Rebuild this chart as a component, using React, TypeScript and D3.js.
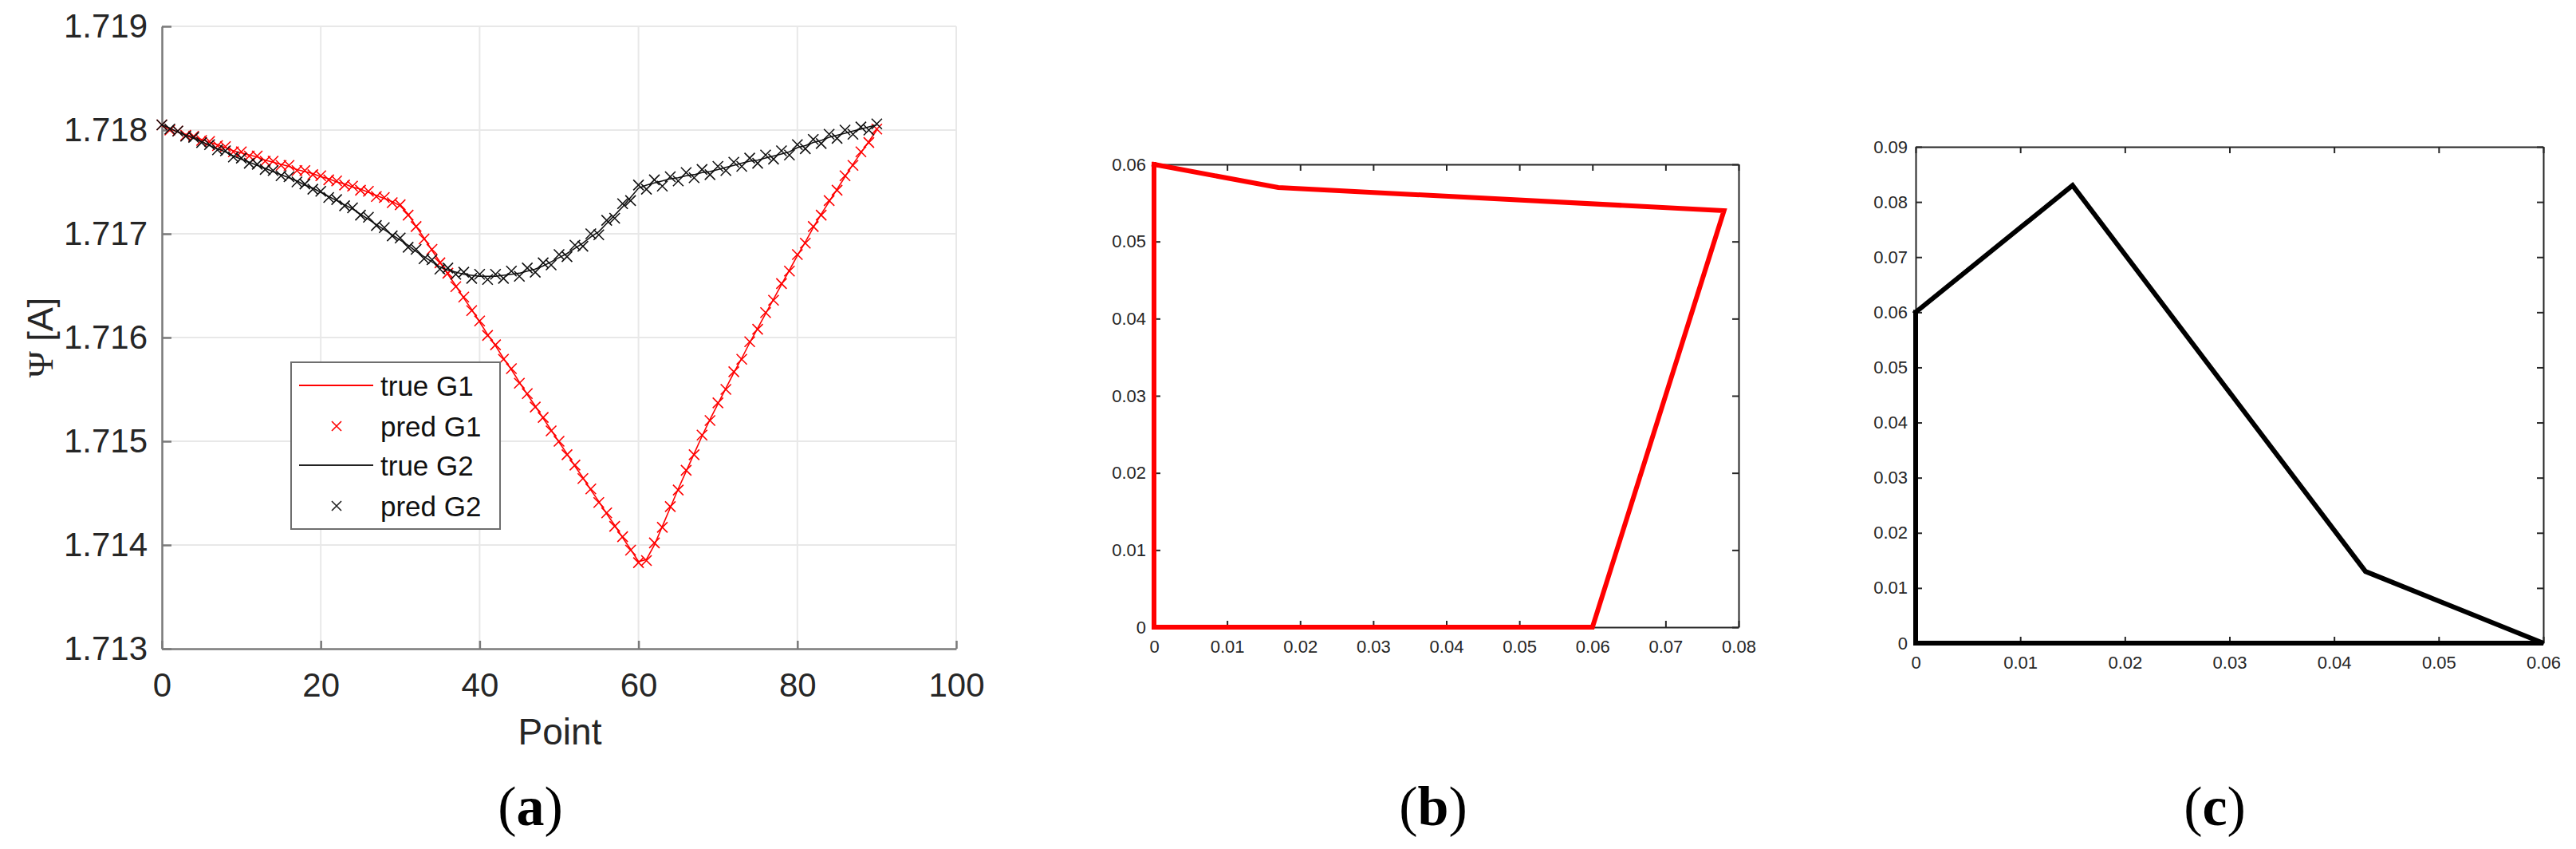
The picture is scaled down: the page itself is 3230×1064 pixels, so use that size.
import React, { useEffect, useRef } from 'react'
import { select, scaleLinear, line, axisLeft, axisBottom, axisTop, axisRight } from 'd3'

// panel (a): flux linkage per point
const trueG1 = [
  1.71804, 1.71801, 1.71798, 1.71796, 1.71793, 1.71791, 1.71788, 1.71786, 1.71783, 1.71780,
  1.71778, 1.71776, 1.71774, 1.71771, 1.71769, 1.71767, 1.71765, 1.71762, 1.7176, 1.71758,
  1.71755, 1.71753, 1.7175, 1.71748, 1.71745, 1.71743, 1.7174, 1.71737, 1.71734, 1.71731,
  1.71727, 1.71719, 1.71707, 1.71696, 1.71684, 1.71673, 1.71661, 1.7165, 1.71638, 1.71627,
  1.71615, 1.71603, 1.71592, 1.7158, 1.71569, 1.71557, 1.71545, 1.71534, 1.71522, 1.71511,
  1.71499, 1.71488, 1.71476, 1.71465, 1.71453, 1.71442, 1.7143, 1.71419, 1.71407, 1.71396,
  1.71384, 1.71386, 1.714, 1.71418, 1.71436, 1.71454, 1.71471, 1.71488, 1.71505, 1.71521,
  1.71536, 1.71551, 1.71566, 1.7158, 1.71595, 1.71609, 1.71623, 1.71637, 1.71651, 1.71665,
  1.71679, 1.71692, 1.71706, 1.71719, 1.71731, 1.71743, 1.71755, 1.71767, 1.71778, 1.71789,
  1.718
]
const predG1 = [
  1.71805, 1.718, 1.71799, 1.71795, 1.71794, 1.7179, 1.71789, 1.71785, 1.71784, 1.71779,
  1.71779, 1.71775, 1.71775, 1.7177, 1.7177, 1.71766, 1.71766, 1.71761, 1.71761, 1.71757,
  1.71756, 1.71752, 1.71751, 1.71747, 1.71746, 1.71742, 1.71741, 1.71736, 1.71735, 1.7173,
  1.71728, 1.71718, 1.71707, 1.71695, 1.71685, 1.71672, 1.71662, 1.71649, 1.71639, 1.71626,
  1.71616, 1.71602, 1.71593, 1.71579, 1.7157, 1.71556, 1.71546, 1.71533, 1.71523, 1.7151,
  1.715, 1.71487, 1.71477, 1.71464, 1.71454, 1.71441, 1.71431, 1.71418, 1.71408, 1.71395,
  1.71383, 1.71385, 1.71402, 1.71417, 1.71437, 1.71453, 1.71472, 1.71487, 1.71506, 1.7152,
  1.71537, 1.7155, 1.71567, 1.71579, 1.71596, 1.71608, 1.71624, 1.71636, 1.71652, 1.71664,
  1.7168, 1.71691, 1.71707, 1.71718, 1.71732, 1.71742, 1.71756, 1.71766, 1.71779, 1.71788,
  1.71801
]
const trueG2 = [
  1.71805, 1.71802, 1.71798, 1.71795, 1.71792, 1.71789, 1.71785, 1.71782, 1.71779, 1.71775,
  1.71772, 1.71769, 1.71766, 1.71763, 1.7176, 1.71757, 1.71754, 1.71751, 1.71747, 1.71744,
  1.7174, 1.71736, 1.71732, 1.71728, 1.71724, 1.71719, 1.71714, 1.71709, 1.71704, 1.71699,
  1.71694, 1.71689, 1.71683, 1.71678, 1.71673, 1.71668, 1.71665, 1.71663, 1.71661, 1.7166,
  1.71659, 1.71659, 1.71659, 1.7166, 1.71661, 1.71662, 1.71664, 1.71666, 1.71669, 1.71673,
  1.71677, 1.71681, 1.71686, 1.71691, 1.71697, 1.71702, 1.7171, 1.71718, 1.71726, 1.71735,
  1.71744, 1.71747, 1.71749, 1.71751, 1.71753, 1.71754, 1.71756, 1.71757, 1.71759, 1.7176,
  1.71762, 1.71764, 1.71766, 1.71768, 1.7177, 1.71771, 1.71773, 1.71775, 1.71777, 1.71779,
  1.71783, 1.71785, 1.71788, 1.7179, 1.71793, 1.71795, 1.71797, 1.71799, 1.71801, 1.71803,
  1.71805
]
const predG2 = [
  1.71805, 1.71801, 1.71799, 1.71794, 1.71793, 1.71788, 1.71786, 1.71781, 1.7178, 1.71774,
  1.71773, 1.71768, 1.71767, 1.71762, 1.71761, 1.71756, 1.71755, 1.7175, 1.71748, 1.71743,
  1.71741, 1.71735, 1.71733, 1.71727, 1.71725, 1.71718, 1.71716, 1.71708, 1.71706, 1.71698,
  1.71696, 1.71687, 1.71685, 1.71676, 1.71675, 1.71666, 1.71667, 1.71661, 1.71663, 1.71657,
  1.71661, 1.71656, 1.71661, 1.71657, 1.71664, 1.71659, 1.71667, 1.71663, 1.71672, 1.7167,
  1.7168, 1.71678, 1.71689, 1.71688, 1.717, 1.71699, 1.71713, 1.71715, 1.71729, 1.71732,
  1.71747, 1.71743, 1.71752, 1.71746, 1.71755, 1.71751, 1.71759, 1.71754, 1.71762, 1.71757,
  1.71765, 1.71761, 1.71769, 1.71765, 1.71773, 1.71768, 1.71776, 1.71772, 1.7178, 1.71776,
  1.71786, 1.71782, 1.71791, 1.71787, 1.71796, 1.71792, 1.718, 1.71796, 1.71803, 1.718,
  1.71806
]
const pointTicks = [0, 20, 40, 60, 80, 100]
const psiTicks = [1.713, 1.714, 1.715, 1.716, 1.717, 1.718, 1.719]
const legendNames = ['true G1', 'pred G1', 'true G2', 'pred G2']

// panel (b): closed red outline
const shapeBx = [0, 0.017, 0.078, 0.06, 0, 0]
const shapeBy = [0.06, 0.057, 0.054, 0, 0, 0.06]
const bTicksX = [0, 0.01, 0.02, 0.03, 0.04, 0.05, 0.06, 0.07, 0.08]
const bTicksY = [0, 0.01, 0.02, 0.03, 0.04, 0.05, 0.06]

// panel (c): closed black outline
const shapeCx = [0, 0.015, 0.043, 0.06, 0, 0]
const shapeCy = [0.06, 0.083, 0.013, 0, 0, 0.06]
const cTicksX = [0, 0.01, 0.02, 0.03, 0.04, 0.05, 0.06]
const cTicksY = [0, 0.01, 0.02, 0.03, 0.04, 0.05, 0.06, 0.07, 0.08, 0.09]

const SANS = '"Liberation Sans", Arial, sans-serif'
const SERIF = '"Liberation Serif", "DejaVu Serif", serif'
const TXT = '#262626'

const App = () => {
  const svgRef = useRef<SVGSVGElement>(null)

  useEffect(() => {
    const svg = select(svgRef.current)
    svg.selectAll('*').remove()

    // ---------- panel (a)
    const ax = scaleLinear().domain([0, 100]).range([203, 1199])
    const ay = scaleLinear().domain([1.713, 1.719]).range([813, 33])
    const ga = svg.append('g')

    ga.selectAll('.gx').data(pointTicks.slice(1)).join('line')
      .attr('x1', d => ax(d)).attr('x2', d => ax(d))
      .attr('y1', ay(1.713)).attr('y2', ay(1.719))
      .attr('stroke', '#e8e8e8').attr('stroke-width', 2)
    ga.selectAll('.gy').data(psiTicks.slice(1)).join('line')
      .attr('y1', d => ay(d)).attr('y2', d => ay(d))
      .attr('x1', ax(0)).attr('x2', ax(100))
      .attr('stroke', '#e8e8e8').attr('stroke-width', 2)

    const yAxisA = axisLeft(ay).tickValues(psiTicks).tickFormat(d => String(d))
      .tickSize(-12).tickSizeOuter(0).tickPadding(18)
    const gya = ga.append('g').attr('transform', `translate(${ax(0)},0)`).call(yAxisA)
    const xAxisA = axisBottom(ax).tickValues(pointTicks).tickFormat(d => String(d))
      .tickSize(-10).tickSizeOuter(0).tickPadding(30)
    const gxa = ga.append('g').attr('transform', `translate(0,${ay(1.713)})`).call(xAxisA)
    for (const g of [gya, gxa]) {
      g.select('.domain').attr('stroke', '#7a7a7a').attr('stroke-width', 2.5)
      g.selectAll('.tick line').attr('stroke', '#7a7a7a').attr('stroke-width', 2.5)
      g.selectAll('.tick text').attr('fill', TXT).attr('font-size', 42).attr('font-family', SANS)
    }

    const idx = trueG1.map((v, i) => i)
    const lineA = (vals: number[]) => line<number>().x((d, i) => ax(idx[i])).y(d => ay(d))(vals)
    const cross = 'M-6.5,-6.5L6.5,6.5M-6.5,6.5L6.5,-6.5'
    const series = [
      { vals: trueG1, pred: predG1, color: '#ff0000' },
      { vals: trueG2, pred: predG2, color: '#111111' },
    ]
    series.forEach(s => {
      ga.append('path').attr('d', lineA(s.vals)).attr('fill', 'none')
        .attr('stroke', s.color).attr('stroke-width', 1.6)
      ga.append('g').selectAll('path').data(s.pred).join('path')
        .attr('d', cross)
        .attr('transform', (d, i) => `translate(${ax(idx[i])},${ay(d)})`)
        .attr('stroke', s.color).attr('stroke-width', 1.6).attr('fill', 'none')
    })

    // legend
    const lg = ga.append('g')
    lg.append('rect').attr('x', 365).attr('y', 454).attr('width', 262).attr('height', 209)
      .attr('fill', '#fff').attr('stroke', '#6e6e6e').attr('stroke-width', 2)
    const rowY = [483, 534, 583, 634]
    legendNames.forEach((name, i) => {
      const color = i < 2 ? '#ff0000' : '#222'
      if (i % 2 === 0) {
        lg.append('line').attr('x1', 375).attr('x2', 468).attr('y1', rowY[i]).attr('y2', rowY[i])
          .attr('stroke', color).attr('stroke-width', 2)
      } else {
        lg.append('path').attr('d', 'M-6,-6L6,6M-6,6L6,-6')
          .attr('transform', `translate(422,${rowY[i]})`)
          .attr('stroke', color).attr('stroke-width', 1.6)
      }
      lg.append('text').attr('x', 477).attr('y', rowY[i]).attr('dy', '0.36em')
        .attr('font-size', 35).attr('font-family', SANS).attr('fill', '#111').text(name)
    })

    ga.append('text').attr('x', 702).attr('y', 933).attr('text-anchor', 'middle')
      .attr('font-size', 46).attr('font-family', SANS).attr('fill', TXT).text('Point')
    const yl = ga.append('text').attr('transform', 'translate(66,423) rotate(-90)')
      .attr('text-anchor', 'middle').attr('font-size', 45).attr('fill', TXT)
    yl.append('tspan').attr('font-family', SERIF).text('Ψ')
    yl.append('tspan').attr('font-family', SANS).text(' [A]')

    // ---------- panels (b) and (c)
    const boxPanel = (
      x0: number, x1: number, y0: number, y1: number,
      xt: number[], yt: number[], xs: number[], ys: number[], color: string
    ) => {
      const sx = scaleLinear().domain([xt[0], xt[xt.length - 1]]).range([x0, x1])
      const sy = scaleLinear().domain([yt[0], yt[yt.length - 1]]).range([y1, y0])
      const g = svg.append('g')
      const fmt = (d: any) => String(d)
      const axes = [
        g.append('g').attr('transform', `translate(0,${y1})`)
          .call(axisBottom(sx).tickValues(xt).tickFormat(fmt).tickSize(-8).tickSizeOuter(0).tickPadding(16)),
        g.append('g').attr('transform', `translate(0,${y0})`)
          .call(axisTop(sx).tickValues(xt).tickFormat(() => '').tickSize(-8).tickSizeOuter(0)),
        g.append('g').attr('transform', `translate(${x0},0)`)
          .call(axisLeft(sy).tickValues(yt).tickFormat(fmt).tickSize(-8).tickSizeOuter(0).tickPadding(10)),
        g.append('g').attr('transform', `translate(${x1},0)`)
          .call(axisRight(sy).tickValues(yt).tickFormat(() => '').tickSize(-8).tickSizeOuter(0)),
      ]
      axes.forEach(a => {
        a.select('.domain').attr('stroke', TXT).attr('stroke-width', 2)
        a.selectAll('.tick line').attr('stroke', TXT).attr('stroke-width', 2)
        a.selectAll('.tick text').attr('fill', TXT).attr('font-size', 22).attr('font-family', SANS)
      })
      const pts = xs.map((x, i) => [x, ys[i]] as [number, number])
      g.append('path')
        .attr('d', line<[number, number]>().x(d => sx(d[0])).y(d => sy(d[1]))(pts))
        .attr('fill', 'none').attr('stroke', color).attr('stroke-width', 6)
        .attr('stroke-linejoin', 'miter').attr('stroke-linecap', 'square')
    }
    boxPanel(1447, 2180, 206, 786, bTicksX, bTicksY, shapeBx, shapeBy, '#ff0000')
    boxPanel(2402, 3189, 184, 806, cTicksX, cTicksY, shapeCx, shapeCy, '#000000')

    // panel labels
    const labels = [['a', 665], ['b', 1797], ['c', 2777]] as [string, number][]
    labels.forEach(([t, x]) => {
      const lt = svg.append('text').attr('x', x).attr('y', 1034).attr('text-anchor', 'middle')
        .attr('font-size', 70).attr('font-family', SERIF).attr('fill', '#000')
      lt.append('tspan').text('(')
      lt.append('tspan').attr('font-weight', 'bold').text(t)
      lt.append('tspan').text(')')
    })
  }, [])

  return (
    <svg ref={svgRef} width={3230} height={1064}
      style={{ position: 'absolute', left: 0, top: 0, background: '#fff' }} />
  )
}

export default App
